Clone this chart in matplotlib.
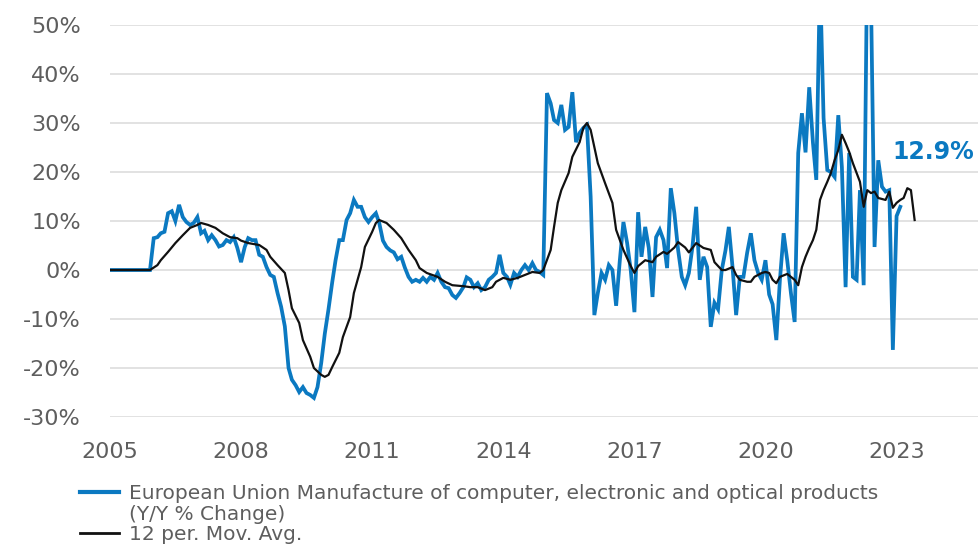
import pandas as pd
import numpy as np
import matplotlib
matplotlib.use('Agg')
import matplotlib.pyplot as plt
from matplotlib.lines import Line2D

# monthly Y/Y % change, Jan 2005 .. Feb 2023
blue_yoy = [
    0, 0, 0, 0, 0, 0, 0, 0, 0, 0, 0, 0,                                  # 2005
    6.5, 6.7, 7.5, 7.8, 11.6, 12.0, 10.0, 13.3, 10.8, 9.8, 9.2, 9.6,     # 2006
    10.8, 7.5, 8.0, 6.1, 7.1, 6.1, 4.8, 5.1, 6.1, 5.7, 6.7, 4.5,         # 2007
    1.6, 4.7, 6.5, 6.1, 6.1, 3.1, 2.7, 0.6, -1.0, -1.4, -4.7, -7.5,      # 2008
    -11.5, -20.0, -22.4, -23.5, -24.9, -23.9, -25.1, -25.5, -26.1, -23.9, -19.0, -13.0,  # 2009
    -8.0, -2.5, 2.0, 6.1, 6.1, 10.2, 11.6, 14.3, 12.9, 12.9, 10.8, 9.8,  # 2010
    10.8, 11.6, 9.6, 6.0, 4.7, 4.0, 3.6, 2.2, 2.7, 0.5, -1.4, -2.4,      # 2011
    -2.0, -2.4, -1.6, -2.4, -1.4, -2.0, -0.6, -2.4, -3.5, -3.7, -5.1, -5.7,  # 2012
    -4.7, -3.5, -1.5, -2.0, -3.5, -2.7, -4.1, -3.5, -2.0, -1.4, -0.6, 3.1,   # 2013
    -0.6, -1.4, -3.0, -0.6, -1.4, 0.0, 1.0, 0.0, 1.4, 0.0, -0.4, -1.0,   # 2014
    36.1, 34.0, 30.6, 30.0, 33.7, 28.6, 29.2, 36.3, 26.1, 28.0, 29.0, 29.6,  # 2015
    15.0, -9.2, -4.7, -0.6, -2.0, 1.0, 0.0, -7.3, 2.0, 9.8, 5.5, 0.0,    # 2016
    -8.6, 11.8, 2.7, 8.8, 4.5, -5.5, 6.7, 8.2, 6.1, 0.4, 16.7, 11.6,     # 2017
    4.1, -1.4, -3.1, -0.6, 4.7, 12.9, -2.0, 2.7, 0.6, -11.6, -6.7, -8.0, # 2018
    0.0, 4.0, 8.8, 0.6, -9.2, -1.4, -1.4, 3.5, 7.5, 2.0, -0.6, -2.0,     # 2019
    2.0, -5.0, -7.0, -14.3, -2.0, 7.5, 2.0, -4.7, -10.6, 23.9, 32.0, 24.0,   # 2020
    37.3, 26.0, 18.4, 60.0, 31.0, 20.4, 20.0, 19.0, 31.6, 21.0, -3.5, 23.9,  # 2021
    -1.4, -2.0, 16.3, -3.1, 65.0, 56.0, 4.7, 22.4, 17.0, 16.0, 16.3, -16.3,  # 2022
    11.0, 12.9,                                                          # 2023
]

# 12 period moving average
ma_months = [
    '2005-01', '2005-12', '2006-02', '2006-03', '2006-05', '2006-07', '2006-09', '2006-11',
    '2007-01', '2007-02', '2007-04', '2007-06', '2007-08', '2007-10', '2007-12',
    '2008-01', '2008-03', '2008-06', '2008-08', '2008-09', '2008-11',
    '2009-01', '2009-02', '2009-03', '2009-05', '2009-06', '2009-08', '2009-09', '2009-11', '2009-12',
    '2010-01', '2010-02', '2010-04', '2010-05', '2010-07', '2010-08', '2010-10', '2010-11',
    '2011-01', '2011-02', '2011-03', '2011-05', '2011-07', '2011-09', '2011-11',
    '2012-01', '2012-02', '2012-04', '2012-07', '2012-09', '2012-11',
    '2013-02', '2013-04', '2013-06', '2013-08', '2013-10', '2013-11',
    '2014-01', '2014-03', '2014-05', '2014-07', '2014-09', '2014-11', '2014-12',
    '2015-02', '2015-03', '2015-04', '2015-05', '2015-07', '2015-08', '2015-10', '2015-11', '2015-12',
    '2016-01', '2016-02', '2016-03', '2016-05', '2016-07', '2016-08', '2016-10', '2016-12',
    '2017-01', '2017-02', '2017-04', '2017-06', '2017-07', '2017-09', '2017-10', '2017-12',
    '2018-01', '2018-03', '2018-04', '2018-06', '2018-08', '2018-10', '2018-11',
    '2019-01', '2019-02', '2019-04', '2019-05', '2019-06', '2019-08', '2019-09', '2019-10', '2019-12',
    '2020-01', '2020-02', '2020-03', '2020-04', '2020-05', '2020-07', '2020-08', '2020-09', '2020-10',
    '2020-11', '2020-12',
    '2021-01', '2021-02', '2021-03', '2021-04', '2021-05', '2021-06', '2021-07', '2021-08', '2021-09',
    '2021-10', '2021-11', '2021-12',
    '2022-01', '2022-02', '2022-03', '2022-04', '2022-05', '2022-06', '2022-07', '2022-08', '2022-10',
    '2022-11', '2022-12',
    '2023-01', '2023-02', '2023-03', '2023-04', '2023-05', '2023-06',
]
ma_vals = [
    0, 0, 1.0, 2.0, 3.7, 5.5, 7.1, 8.6,
    9.2, 9.6, 9.2, 8.6, 7.5, 6.7, 6.5,
    6.0, 5.5, 5.1, 4.1, 2.7, 1.0,
    -0.6, -4.1, -7.8, -10.8, -14.3, -17.7, -20.0, -21.4, -21.8,
    -21.4, -19.8, -16.9, -13.7, -9.6, -4.7, 0.6, 4.7,
    7.8, 9.6, 10.2, 9.6, 8.2, 6.5, 4.1,
    2.0, 0.4, -0.6, -1.4, -2.4, -3.1,
    -3.3, -3.5, -3.5, -4.1, -3.5, -2.4,
    -1.6, -2.0, -1.6, -1.0, -0.4, -0.6, 0.0,
    4.1, 8.8, 13.7, 16.3, 19.8, 23.1, 26.1, 29.0, 30.0,
    28.6, 25.1, 21.8, 17.7, 13.7, 8.2, 4.1, 0.8,
    -0.6, 0.8, 2.0, 1.6, 2.7, 3.7, 3.3, 4.6,
    5.7, 4.6, 3.6, 5.5, 4.5, 4.1, 1.6,
    0.0, 0.0, 0.6, -1.0, -2.0, -2.4, -2.4, -1.4, -0.6,
    -0.4, -0.6, -2.0, -2.7, -1.4, -0.8, -1.4, -2.0, -3.1,
    0.6, 2.7,
    4.5, 6.1, 8.2, 14.3, 16.3, 18.0, 19.8, 22.4, 24.5,
    27.6, 25.9, 24.1,
    21.8, 19.8, 18.0, 12.9, 16.3, 15.7, 16.0, 14.7, 14.3,
    16.0, 12.7,
    13.7, 14.3, 14.7, 16.7, 16.3, 10.2,
]

tick_years = [2005, 2008, 2011, 2014, 2017, 2020, 2023]
y_ticks = [-30, -20, -10, 0, 10, 20, 30, 40, 50]

blue = '#0b79c1'
grey_txt = '#5e5e5e'

plt.rcParams['font.family'] = ['DejaVu Sans']

blue_dates = pd.date_range('2005-01-01', periods=len(blue_yoy), freq='MS')
ma_dates = pd.to_datetime(ma_months)

fig = plt.figure(figsize=(9.79, 5.5), dpi=100)
ax = fig.add_axes([0.1124, 0.2418, 0.8876, 0.7127])

ax.plot(blue_dates, blue_yoy, color=blue, lw=2.7, solid_joinstyle='miter', zorder=3)
ax.plot(ma_dates, ma_vals, color='#111111', lw=1.6, zorder=4)

ax.text(pd.Timestamp('2022-12-01'), 24, '12.9%', color=blue, fontsize=17,
        fontweight='bold', va='center', ha='left', zorder=5)

ax.set_ylim(-30, 50)
ax.set_xlim(pd.Timestamp('2005-01-01'), pd.Timestamp('2024-11-20'))
ax.set_yticks(y_ticks)
ax.set_yticklabels([f'{v}%' for v in y_ticks])
ax.set_xticks([pd.Timestamp(f'{y}-01-01') for y in tick_years])
ax.set_xticklabels([str(y) for y in tick_years])
ax.tick_params(axis='both', length=0, labelsize=16, colors=grey_txt)
ax.tick_params(axis='y', pad=21)
ax.tick_params(axis='x', pad=18)
ax.yaxis.grid(True, color='#dddddd', lw=1.2)
ax.set_axisbelow(True)
for s in ax.spines.values():
    s.set_visible(False)

handles = [Line2D([], [], color=blue, lw=3),
           Line2D([], [], color='none'),
           Line2D([], [], color='#111111', lw=2)]
labels = ['European Union Manufacture of computer, electronic and optical products',
          '(Y/Y % Change)',
          '12 per. Mov. Avg.']
fig.legend(handles, labels, loc='upper left', bbox_to_anchor=(0.082, 0.12), frameon=False,
           fontsize=14.5, labelcolor=grey_txt, handlelength=1.9, handletextpad=0.5,
           labelspacing=0.08, borderaxespad=0, borderpad=0)

fig.savefig('out.png', dpi=100)
